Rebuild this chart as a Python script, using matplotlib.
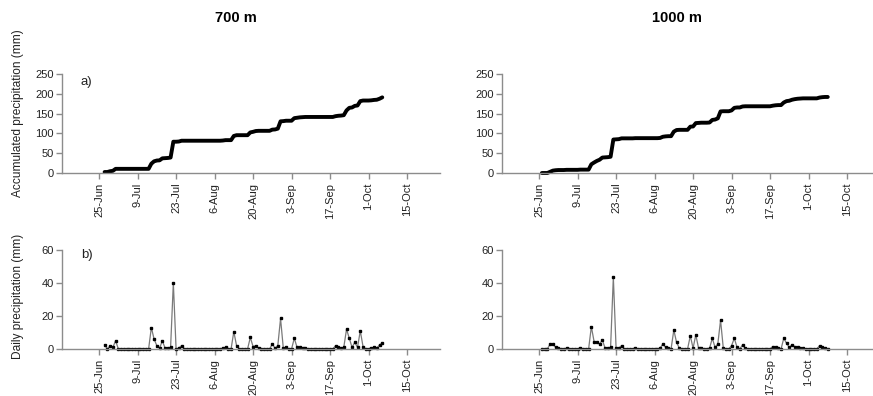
import numpy as np
import matplotlib
matplotlib.use("Agg")
import matplotlib.pyplot as plt

# ---- data (day index counted from 25-Jun) ----
tick_days = [0, 14, 28, 42, 56, 70, 84, 98, 112]
tick_labels = ["25-Jun", "9-Jul", "23-Jul", "6-Aug", "20-Aug", "3-Sep", "17-Sep", "1-Oct", "15-Oct"]

start_700 = 2
daily_700 = [
    2.5, 0, 2, 1, 5, 0, 0, 0, 0, 0,
    0, 0, 0, 0, 0, 0, 0, 13, 6, 2,
    0.5, 5, 0.5, 0.5, 1, 40, 0, 0.5, 2, 0,
    0, 0, 0, 0, 0, 0, 0, 0, 0, 0,
    0, 0, 0, 0.5, 1, 0, 0, 10.5, 2, 0,
    0, 0, 0, 7, 1.5, 2, 0.5, 0, 0, 0,
    0, 3, 0.5, 2, 18.5, 0.5, 1, 0, 0, 6.5,
    1, 1, 0.5, 0.5, 0, 0, 0, 0, 0, 0,
    0, 0, 0, 0, 2, 1, 0.5, 1, 12, 6.5,
    1, 4, 1, 11, 1.5, 0, 0, 0.5, 1, 0.5,
    2.5, 3.5,
]

start_1000 = 1
daily_1000 = [
    0, 0, 0, 3, 3, 1, 0.5, 0, 0, 0.5,
    0, 0, 0, 0, 0.5, 0, 0, 0, 13.5, 4.5,
    4, 3, 5.5, 0.5, 0.5, 1, 43.5, 0.5, 0.5, 2,
    0, 0, 0, 0, 0.5, 0, 0, 0, 0, 0,
    0, 0, 0, 0.5, 3, 1, 0.5, 0, 11.5, 4,
    0.5, 0, 0, 0, 8, 0.5, 8.5, 0.5, 0.5, 0,
    0, 0.5, 6.5, 1, 3, 17.5, 0.5, 0, 0, 2,
    6.5, 1, 0, 2.5, 0.5, 0, 0, 0, 0, 0,
    0, 0, 0, 0, 1.5, 1, 0.5, 0, 6.5, 3.5,
    1, 2.5, 1.5, 1, 0.5, 0.5, 0, 0, 0, 0,
    0, 2, 1, 0.5, 0,
]

titles = ["700 m", "1000 m"]

# ---- figure ----
plt.rcParams["font.family"] = ["Liberation Sans", "DejaVu Sans"]
W, H = 873, 396
fig = plt.figure(figsize=(W / 100, H / 100), dpi=100)

spine_col = "#8c8c8c"
text_col = "#222222"
xmin, xmax = -13.5, 124

def px(l, t, r, b):
    return [l / W, 1 - b / H, (r - l) / W, (b - t) / H]

ax_w = 440 - 62
pos = {
    (0, 0): px(62, 74, 62 + ax_w, 173),
    (0, 1): px(502, 74, 502 + ax_w, 173),
    (1, 0): px(62, 250, 62 + ax_w, 349),
    (1, 1): px(502, 250, 502 + ax_w, 349),
}
title_x = [236, 677]

series = [(start_700, daily_700), (start_1000, daily_1000)]

def style(ax, ymax, ystep):
    for s in ["top", "right"]:
        ax.spines[s].set_visible(False)
    for s in ["left", "bottom"]:
        ax.spines[s].set_color(spine_col)
        ax.spines[s].set_linewidth(1.0)
    ax.set_xlim(xmin, xmax)
    ax.set_ylim(0, ymax)
    ax.set_yticks(np.arange(0, ymax + 1, ystep))
    ax.set_xticks(tick_days)
    ax.set_xticklabels(tick_labels, rotation=90)
    ax.tick_params(axis="both", colors=spine_col, labelcolor=text_col,
                   labelsize=8, length=4, width=1.0, direction="out")
    ax.tick_params(axis="x", pad=3)
    ax.tick_params(axis="y", pad=2)

for col, (start, daily) in enumerate(series):
    days = np.arange(start, start + len(daily))
    d = np.array(daily, dtype=float)
    cum = np.cumsum(d)

    ax = fig.add_axes(pos[(0, col)])
    ax.plot(days, cum, color="black", lw=2.8, solid_capstyle="round",
            solid_joinstyle="round", clip_on=False)
    style(ax, 250, 50)
    fig.text(title_x[col] / W, 1 - 18 / H, titles[col], fontsize=10.5,
             fontweight="bold", ha="center", va="center", color="black")

    ax2 = fig.add_axes(pos[(1, col)])
    ax2.plot(days, d, color="#7a7a7a", lw=0.9, marker="s", markersize=2.1,
             markerfacecolor="black", markeredgecolor="black", clip_on=False)
    style(ax2, 60, 20)

    if col == 0:
        ax.set_ylabel("Accumulated precipitation (mm)", fontsize=8.6, color=text_col)
        ax.yaxis.set_label_coords(-0.1, 0.6)
        ax2.set_ylabel("Daily precipitation (mm)", fontsize=8.6, color=text_col)
        ax2.yaxis.set_label_coords(-0.1, 0.53)
        ax.text(0.05, 0.975, "a)", transform=ax.transAxes, fontsize=9.5,
                va="top", ha="left", color=text_col)
        ax2.text(0.05, 1.01, "b)", transform=ax2.transAxes, fontsize=9.5,
                 va="top", ha="left", color=text_col)

fig.savefig("out.png", dpi=100)
